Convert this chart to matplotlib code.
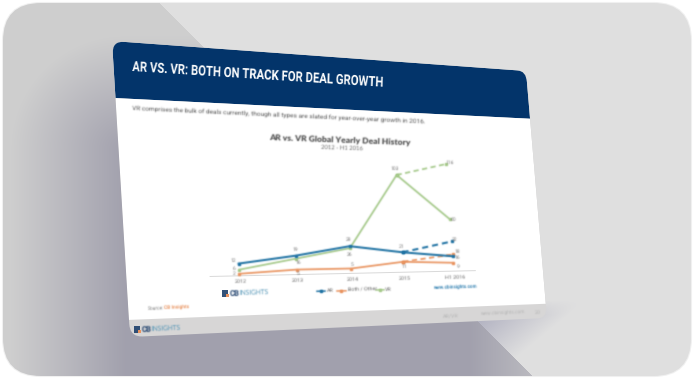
"""AR vs. VR slide, drawn on a tilted slide with a perspective transform."""

import numpy as np
import matplotlib
matplotlib.use('Agg')
import matplotlib.pyplot as plt
from matplotlib.patches import FancyBboxPatch, PathPatch, Polygon, Rectangle
from matplotlib.path import Path
from matplotlib.transforms import Affine2D, Transform

# small rotated text: keep widths proportional to the font size
plt.rcParams['text.hinting'] = 'no_hinting'

# chart data
YEARS = ['2012', '2013', '2014', '2015', 'H1 2016']
AR = [12, 19, 28, 21, 16]
BOTH = [2, 5, 5, 11, 9]
VR = [6, 16, 26, 103, 56]
# dashed projections, 2015 to full year 2016
AR_PROJ = [21, 32]
BOTH_PROJ = [11, 18]
VR_PROJ = [103, 116]
AR_LABELS = ['12', '19', '28', '21', '16']
BOTH_LABELS = ['2', '5', '5', '11', '9']
VR_LABELS = ['6', '16', '26', '103', '60']

BLUE = '#1f72a3'
ORANGE = '#e9935f'
GREEN = '#a5c98a'
NAVY = '#03346a'

SLIDE_W, SLIDE_H = 960, 540
# where the slide corners land in the picture
CORNERS = [(112, 41), (526, 71), (547, 318), (130, 337)]
TITLE_SQUEEZE = 0.79


def homography(src, dst):
    rows, rhs = [], []
    for (u, v), (x, y) in zip(src, dst):
        rows.append([u, v, 1, 0, 0, 0, -u * x, -v * x])
        rows.append([0, 0, 0, u, v, 1, -u * y, -v * y])
        rhs += [x, y]
    h = np.linalg.solve(np.array(rows, float), np.array(rhs, float))
    return np.append(h, 1).reshape(3, 3)


H = homography([(0, 0), (SLIDE_W, 0), (SLIDE_W, SLIDE_H), (0, SLIDE_H)], CORNERS)
H_INV = np.linalg.inv(H)


def apply(m, pts):
    pts = np.atleast_2d(np.asarray(pts, float))
    p = np.column_stack([pts, np.ones(len(pts))]) @ m.T
    return p[:, :2] / p[:, 2:]


class SlideTransform(Transform):
    input_dims = 2
    output_dims = 2
    is_separable = False
    has_inverse = False

    def transform_non_affine(self, values):
        return apply(H, values)


def soften(img, dpi, w=(0.2, 0.6, 0.2)):
    """Small blur for an artist, the reference is a scaled-down screenshot."""
    pad = 3
    a = np.pad(img, ((pad, pad), (pad, pad), (0, 0)))
    alpha = a[:, :, 3:]
    rgb = a[:, :, :3] * alpha

    def blur(c):
        for axis in (0, 1):
            c = w[0] * np.roll(c, 1, axis) + w[1] * c + w[2] * np.roll(c, -1, axis)
        return c

    alpha2 = blur(alpha)
    rgb2 = blur(rgb) / np.maximum(alpha2, 1e-4)
    return np.clip(np.dstack([rgb2, alpha2]), 0, 1), -pad, -pad


def squeeze(img, dpi):
    """No condensed font is installed, so narrow the rendered title sideways."""
    width = img.shape[1]
    new_w = int(width * TITLE_SQUEEZE)
    pos = np.linspace(0, width - 1, new_w)
    left = np.floor(pos).astype(int)
    right = np.minimum(left + 1, width - 1)
    f = (pos - left)[None, :, None]
    return img[:, left] * (1 - f) + img[:, right] * f, 0, 0


fig = plt.figure(figsize=(6.94, 3.8), dpi=100, facecolor='white')
ax = fig.add_axes([0, 0, 1, 1])
ax.set_xlim(0, 694)
ax.set_ylim(380, 0)
ax.axis('off')
ax.set_autoscale_on(False)

# card background with the dark band running behind the slide
card = FancyBboxPatch((3, 3), 688, 373, boxstyle='round,pad=0,rounding_size=38',
                      fc='#e0e0e0', ec='#f0f0f0', lw=1.5, zorder=1)
ax.add_patch(card)
xx, yy = np.meshgrid(np.arange(694) + 0.5, np.arange(380) + 0.5)
dx = np.maximum(np.maximum(125 - xx, xx - 470), 0)
dy = np.maximum(150 - yy, 0)
t = np.clip(np.hypot(dx, dy) / 115, 0, 1)[..., None]
dark = np.array([0.635, 0.63, 0.68]) * (1 - t) + np.array([0.81, 0.81, 0.81]) * t
fade = np.clip((xx - 478) / 85 + (yy - 320) / 70, 0, 1)[..., None]
side = np.array([0.70, 0.70, 0.76]) * (1 - fade) + np.array([0.878, 0.878, 0.878]) * fade
low = np.clip((yy - 300) / 15, 0, 1)[..., None]
side = side * low + 0.878 * (1 - low)
below = (yy > xx - 157)[..., None]
bg = np.where(below, dark, side)
im = ax.imshow(bg, extent=(0, 694, 380, 0), aspect='auto', zorder=1.1, interpolation='bilinear')
im.set_clip_path(card)
ax.set_xlim(0, 694)
ax.set_ylim(380, 0)

slide_tf = SlideTransform() + ax.transData


def rounded(u0, v0, u1, v1, r):
    verts = [(u0 + r, v0), (u1 - r, v0), (u1, v0), (u1, v0 + r), (u1, v1 - r), (u1, v1),
             (u1 - r, v1), (u0 + r, v1), (u0, v1), (u0, v1 - r), (u0, v0 + r), (u0, v0),
             (u0 + r, v0), (u0 + r, v0)]
    codes = [Path.MOVETO, Path.LINETO, Path.CURVE3, Path.CURVE3, Path.LINETO, Path.CURVE3, Path.CURVE3,
             Path.LINETO, Path.CURVE3, Path.CURVE3, Path.LINETO, Path.CURVE3, Path.CURVE3, Path.CLOSEPOLY]
    return Path(verts, codes)


slide = PathPatch(rounded(0, 0, SLIDE_W, SLIDE_H, 24), fc='#d7d6d6', ec='none',
                  transform=slide_tf, zorder=2)
ax.add_patch(slide)

band_v = apply(H_INV, (114, 98))[0, 1]
foot_v = apply(H_INV, (126, 320))[0, 1]
for v0, v1, col in [(0, band_v, NAVY), (band_v, foot_v, 'white')]:
    p = Polygon([(0, v0), (SLIDE_W, v0), (SLIDE_W, v1), (0, v1)], fc=col, ec='none',
                transform=slide_tf, zorder=2.1)
    ax.add_patch(p)
    p.set_clip_path(slide)


def txt(x, y, s, size, color='#666666', weight='normal', ha='center', family='Roboto', blur=True):
    u, v = apply(H_INV, (x, y))[0]
    a, b = apply(H, [(u, v), (u + 20, v)])
    angle = -np.degrees(np.arctan2(b[1] - a[1], b[0] - a[0]))
    t = ax.text(x, y, s, fontsize=size, color=color, fontweight=weight, ha=ha, va='center',
                rotation=angle, rotation_mode='anchor', family=family, zorder=5)
    if blur:
        t.set_agg_filter(soften)
    return t


def logo(x, y, size):
    ax.add_patch(Rectangle((x, y - size * 0.55), size, size * 1.1, fc='#1d3f6b', ec='none', zorder=5, alpha=0.9))
    ax.add_patch(Rectangle((x + size * 0.65, y), size * 0.4, size * 0.5, fc=ORANGE, ec='none', zorder=5.1))
    txt(x + size * 1.2, y, 'CB', size * 0.9, '#1d3f6b', 'bold', 'left')
    txt(x + size * 2.85, y - 0.2, 'INSIGHTS', size * 0.76, '#4f93b5', 'normal', 'left', 'Lato')


title = txt(132, 67, 'AR VS. VR: BOTH ON TRACK FOR DEAL GROWTH', 10.4, 'white', 'bold', 'left', blur=False)
title.set_rotation((title.get_rotation() - 360) * TITLE_SQUEEZE)
title.set_agg_filter(squeeze)
txt(132, 108, 'VR comprises the bulk of deals currently, though all types are slated for '
    'year-over-year growth in 2016.', 4.65, '#555555', 'normal', 'left')
txt(340, 139.5, 'AR vs. VR Global Yearly Deal History', 6.1, '#4f4f4f', 'heavy', family='Lato')
txt(342, 148, '2012 - H1 2016', 4.2, '#666666', family='Lato')

# chart scales: category index and deal count onto the slide plane
u_first, v_first = apply(H_INV, (239.5, 276.5))[0]
u_last, v_last = apply(H_INV, (454, 270.5))[0]
_, v_peak = apply(H_INV, (397.5, 175))[0]
base_v = (v_first + v_last) / 2
per_deal = (base_v - v_peak) / 103
per_year = (u_last - u_first) / (len(YEARS) - 1)
chart_tf = Affine2D().scale(per_year, -per_deal).translate(u_first, base_v) + slide_tf
to_px = Affine2D().scale(per_year, -per_deal).translate(u_first, base_v).get_matrix()


def px(i, val):
    return apply(H, apply(to_px, (i, val)))[0]


# axis line
base = np.array([-0.5, 4.45])
ax.plot(base, [0, 0], color='#d9d9d9', lw=0.7, transform=chart_tf, zorder=3, solid_capstyle='butt')

idx = np.arange(len(YEARS))
for values, proj, color, width, z in [(VR, VR_PROJ, GREEN, 1.25, 3.2), (BOTH, BOTH_PROJ, ORANGE, 1.25, 3.3),
                                      (AR, AR_PROJ, BLUE, 1.45, 3.4)]:
    l1, = ax.plot(idx, values, color=color, lw=width, marker='s', ms=2.1, transform=chart_tf, zorder=z)
    l2, = ax.plot(idx[3:], proj, color=color, lw=width, ls=(0, (3, 2)), marker='s', ms=1.6,
                  transform=chart_tf, zorder=z)
    l1.set_agg_filter(soften)
    l2.set_agg_filter(soften)

# label offsets in pixels from each point
AR_OFFSETS = [(-5, -3), (0, -6), (-1, -7), (-1, -6), (5, 1)]
BOTH_OFFSETS = [(-5, 0), (1, 3.5), (1, -3.5), (1, 5), (5, 4)]
VR_OFFSETS = [(-5, -1), (3, 4), (0, 6), (-2, -6), (4, 0)]
for values, labels, offsets in [(AR, AR_LABELS, AR_OFFSETS), (BOTH, BOTH_LABELS, BOTH_OFFSETS), (VR, VR_LABELS, VR_OFFSETS)]:
    for i, (val, lab, off) in enumerate(zip(values, labels, offsets)):
        p = px(i, val)
        txt(p[0] + off[0], p[1] + off[1], lab, 3.6, '#777777')
for proj, off in [(AR_PROJ, (3, -2)), (BOTH_PROJ, (5, -3)), (VR_PROJ, (4, -1))]:
    p = px(4, proj[1])
    txt(p[0] + off[0], p[1] + off[1], str(proj[1]), 3.6, '#777777')

for i, year in enumerate(YEARS):
    p = px(i, 0)
    txt(p[0] + 1, p[1] + 6, year, 3.9, '#666666')

# legend
for x0, x1, y, color, label, lx in [(317, 325, 291.3, BLUE, 'AR', 327), (337, 346, 291, ORANGE, 'Both / Other', 347.5),
                                    (376, 384, 290, GREEN, 'VR', 385)]:
    line, = ax.plot([x0, x1], [y, y - 0.2], color=color, lw=1.1, zorder=4)
    mark, = ax.plot([(x0 + x1) / 2], [y - 0.1], color=color, marker='s', ms=1.8, zorder=4)
    line.set_agg_filter(soften)
    mark.set_agg_filter(soften)
    txt(lx, y - 0.5, label, 3.9, '#666666', ha='left')

txt(455.5, 286.8, 'www.cbinsights.com', 3.3, '#2f7fb0', 'bold')
logo(222, 293.5, 6.2)

txt(148, 308.2, 'Source:', 3.5, '#777777', ha='left')
txt(164, 307.9, 'CB Insights', 3.5, ORANGE, 'bold', 'left')

logo(134, 329.5, 6.2)
txt(451, 316, 'AR/VR', 3.9, '#b5b5b5')
txt(503, 313, 'www.cbinsights.com', 3.4, '#b5b5b5')
txt(538, 312, '20', 3.9, '#b5b5b5')

fig.savefig('out.png', dpi=100)
